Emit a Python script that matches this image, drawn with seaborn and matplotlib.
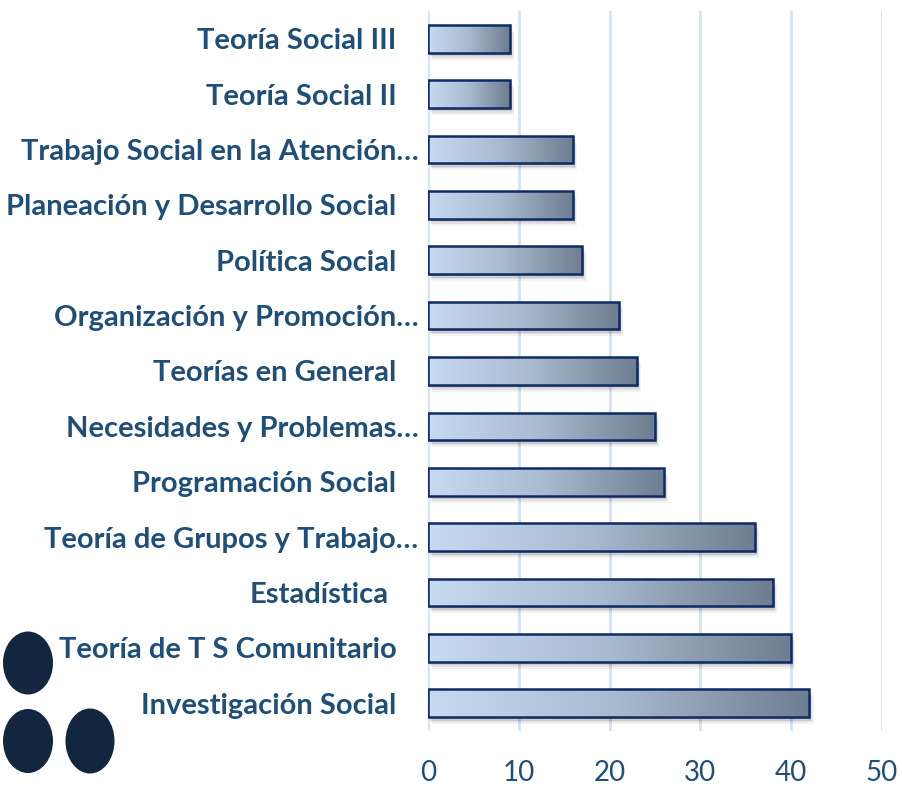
import numpy as np
import pandas as pd
import seaborn as sns
import matplotlib.pyplot as plt
import matplotlib.transforms as mtransforms
from matplotlib.colors import LinearSegmentedColormap
from matplotlib.patches import Ellipse, Rectangle

# data (top to bottom)
materias = ["Teoría Social III", "Teoría Social II", "Trabajo Social en la Atención…",
            "Planeación y Desarrollo Social", "Política Social", "Organización y Promoción…",
            "Teorías en General", "Necesidades y Problemas…", "Programación Social",
            "Teoría de Grupos y Trabajo…", "Estadística", "Teoría de T S Comunitario",
            "Investigación Social"]
frecuencia = [9, 9, 16, 16, 17, 21, 23, 25, 26, 36, 38, 40, 42]
x_ticks = [0, 10, 20, 30, 40, 50]

df = pd.DataFrame({"materia": materias, "n": frecuencia})

navy = "#1F4E79"
sns.set_style("white")
plt.rcParams["font.family"] = ["Lato", "DejaVu Sans"]

fig = plt.figure(figsize=(9.02, 7.86), dpi=100)
ax = fig.add_axes([428 / 902, 1 - 731 / 786, 454 / 902, 720 / 786])

sns.barplot(data=df, x="n", y="materia", orient="h", ax=ax, width=0.5,
            color="#C6DBF4", edgecolor="#0E2A66", linewidth=1.8, zorder=4)

grad = LinearSegmentedColormap.from_list("g", ["#C6DAF2", "#A8BAD0", "#6E7D90"])
shade = np.linspace(0, 1, 256).reshape(1, -1)
for p in list(ax.patches):
    p.set_facecolor("none")
    x0, y0 = p.get_x(), p.get_y()
    w, h = p.get_width(), p.get_height()
    # soft shadow under the bar
    for k, a in [(7, 0.05), (5, 0.07), (3.5, 0.09), (2, 0.1)]:
        off = mtransforms.offset_copy(ax.transData, fig=fig, x=k * 0.6, y=-k, units="dots")
        ax.add_patch(Rectangle((x0, y0), w, h, transform=off, facecolor="black",
                               edgecolor="none", alpha=a, zorder=2))
    im = ax.imshow(shade, extent=[x0, x0 + w, y0 + h, y0], cmap=grad,
                   aspect="auto", zorder=3, interpolation="bicubic")
    im.set_clip_path(p)

ax.set_xlim(0, 50)
ax.set_ylim(12.5, -0.5)
ax.set_xticks(x_ticks)
ax.xaxis.grid(True, color="#D5E2F2", linewidth=2)
ax.set_axisbelow(True)
for s in ax.spines.values():
    s.set_visible(False)
ax.set_xlabel("")
ax.set_ylabel("")
ax.tick_params(axis="x", length=0, pad=21, labelsize=20, labelcolor=navy)
ax.tick_params(axis="y", length=0, pad=7, labelsize=21, labelcolor=navy)
for t in ax.get_yticklabels():
    t.set_fontweight("bold")
    txt = t.get_text()
    if not txt.endswith("…"):
        shift = 30 if txt == "Estadística" else 22
        t.set_transform(t.get_transform() + mtransforms.ScaledTranslation(-shift / 100, 0, fig.dpi_scale_trans))

# decorative dots
W, H = 902, 786
for cx, cy, ew, eh in [(28, 663, 50, 63), (28, 741, 50, 64), (90, 741, 49, 65)]:
    fig.patches.append(Ellipse((cx / W, 1 - cy / H), ew / W, eh / H,
                               transform=fig.transFigure, facecolor="#12263F",
                               edgecolor="none", zorder=10))

fig.savefig("out.png", dpi=100)
